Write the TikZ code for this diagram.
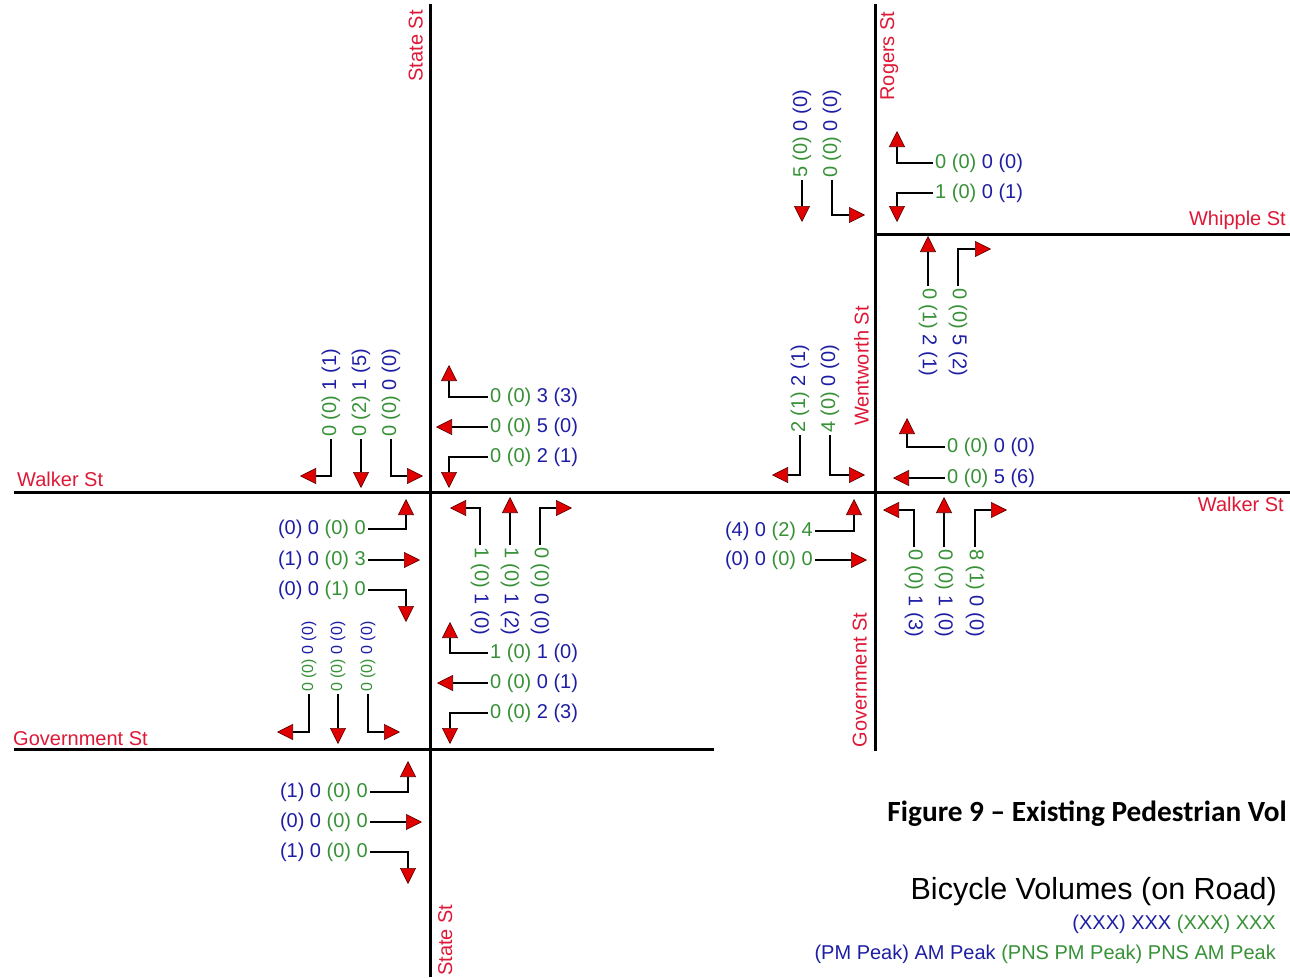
\documentclass[tikz,border=0pt]{standalone}
\usepackage{fontspec}
\setmainfont{Liberation Sans}
\newfontfamily\titlefont{Carlito}
\usetikzlibrary{arrows.meta}
\definecolor{numgreen}{RGB}{55,145,55}
\definecolor{numblue}{RGB}{30,30,165}
\definecolor{streetred}{RGB}{222,25,55}
\definecolor{arrred}{RGB}{225,0,0}
\definecolor{arrdark}{RGB}{90,0,0}
\newcommand{\gb}[4]{\textcolor{numgreen}{#1 (#2)} \textcolor{numblue}{#3 (#4)}}
\newcommand{\bgx}[4]{\textcolor{numblue}{(#1) #2} \textcolor{numgreen}{(#3) #4}}
\tikzset{
  road/.style={line width=3pt, line cap=rect},
  mv/.style={line width=1.8pt, -{Triangle[length=16pt,width=16pt,fill=arrred,color=arrdark,line width=0.6pt]}},
  num/.style={font=\fontsize{20}{24}\selectfont, inner sep=2pt},
  smallnum/.style={font=\fontsize{16}{19}\selectfont, inner sep=2pt},
  lbl/.style={font=\fontsize{20}{24}\selectfont, text=streetred, inner sep=0pt},
}
\begin{document}
\begin{tikzpicture}[x=1pt,y=-1pt]
\useasboundingbox (0,0) rectangle (1290,977);
\fill[white] (0,0) rectangle (1290,977);
% roads
\coordinate (sT) at (430,5); \coordinate (sB) at (430,975);
\coordinate (wL) at (15,492); \coordinate (wR) at (1288,492);
\coordinate (gL) at (15,749); \coordinate (gR) at (712,749);
\coordinate (rT) at (875,5); \coordinate (rB) at (875,749);
\coordinate (whL) at (875,234); \coordinate (whR) at (1288,234);
\draw[road] (sT) -- (sB);
\draw[road] (wL) -- (wR);
\draw[road] (gL) -- (gR);
\draw[road] (rT) -- (rB);
\draw[road] (whL) -- (whR);
% street labels
\node[lbl,rotate=90,anchor=south] (lstate1) at (423,46) {State St};
\node[lbl,rotate=90,anchor=north] (lstate2) at (438,940) {State St};
\node[lbl,rotate=90,anchor=north] (lrogers) at (880,56) {Rogers St};
\node[lbl,rotate=90,anchor=south] (lwent) at (869,366) {Wentworth St};
\node[lbl,rotate=90,anchor=south] (lgov2) at (867,680) {Government St};
\node[lbl,anchor=base west] (lwalk1) at (17,486) {Walker St};
\node[lbl,anchor=base east] (lwalk2) at (1284,511) {Walker St};
\node[lbl,anchor=base east] (lwhip) at (1286,225) {Whipple St};
\node[lbl,anchor=base west] (lgov1) at (13,745) {Government St};
% State / Walker NW
\node[num,rotate=90,anchor=west] (nw1) at (331,439) {\gb{0}{0}{1}{1}};
\node[num,rotate=90,anchor=west] (nw2) at (361,439) {\gb{0}{2}{1}{5}};
\node[num,rotate=90,anchor=west] (nw3) at (391,439) {\gb{0}{0}{0}{0}};
\draw[mv] (nw1.west) |- (300,476);
\draw[mv] (nw2.west) -- (361,488);
\draw[mv] (nw3.west) |- (423,476);
% State / Walker NE
\node[num,anchor=west] (ne1) at (488,397) {\gb{0}{0}{3}{3}};
\node[num,anchor=west] (ne2) at (488,427) {\gb{0}{0}{5}{0}};
\node[num,anchor=west] (ne3) at (488,457) {\gb{0}{0}{2}{1}};
\draw[mv] (ne1.west) -| (449,365);
\draw[mv] (ne2.west) -- (436,427);
\draw[mv] (ne3.west) -| (449,488);
% State / Walker SW
\node[num,anchor=east] (sw1) at (368,529) {\bgx{0}{0}{0}{0}};
\node[num,anchor=east] (sw2) at (368,560) {\bgx{1}{0}{0}{3}};
\node[num,anchor=east] (sw3) at (368,590) {\bgx{0}{0}{1}{0}};
\draw[mv] (sw1.east) -| (406,499);
\draw[mv] (sw2.east) -- (420,560);
\draw[mv] (sw3.east) -| (406,622);
% State / Walker SE
\node[num,rotate=-90,anchor=west] (se1) at (480,545) {\gb{1}{0}{1}{0}};
\node[num,rotate=-90,anchor=west] (se2) at (510,545) {\gb{1}{0}{1}{2}};
\node[num,rotate=-90,anchor=west] (se3) at (540,545) {\gb{0}{0}{0}{0}};
\draw[mv] (se1.west) |- (450,508);
\draw[mv] (se2.west) -- (510,497);
\draw[mv] (se3.west) |- (572,508);
% State / Government NW
\node[smallnum,rotate=90,anchor=west] (gw1) at (309,694) {\gb{0}{0}{0}{0}};
\node[smallnum,rotate=90,anchor=west] (gw2) at (338,694) {\gb{0}{0}{0}{0}};
\node[smallnum,rotate=90,anchor=west] (gw3) at (368,694) {\gb{0}{0}{0}{0}};
\draw[mv] (gw1.west) |- (277,732);
\draw[mv] (gw2.west) -- (338,744);
\draw[mv] (gw3.west) |- (400,732);
% State / Government NE
\node[num,anchor=west] (ge1) at (488,653) {\gb{1}{0}{1}{0}};
\node[num,anchor=west] (ge2) at (488,683) {\gb{0}{0}{0}{1}};
\node[num,anchor=west] (ge3) at (488,713) {\gb{0}{0}{2}{3}};
\draw[mv] (ge1.west) -| (450,622);
\draw[mv] (ge2.west) -- (437,683);
\draw[mv] (ge3.west) -| (450,744);
% State / Government SW
\node[num,anchor=east] (gs1) at (370,792) {\bgx{1}{0}{0}{0}};
\node[num,anchor=east] (gs2) at (370,822) {\bgx{0}{0}{0}{0}};
\node[num,anchor=east] (gs3) at (370,852) {\bgx{1}{0}{0}{0}};
\draw[mv] (gs1.east) -| (408,761);
\draw[mv] (gs2.east) -- (422,822);
\draw[mv] (gs3.east) -| (408,884);
% Rogers / Whipple
\node[num,rotate=90,anchor=west] (rw1) at (802,180) {\gb{5}{0}{0}{0}};
\node[num,rotate=90,anchor=west] (rw2) at (832,180) {\gb{0}{0}{0}{0}};
\draw[mv] (rw1.west) -- (802,222);
\draw[mv] (rw2.west) |- (865,215);
\node[num,anchor=west] (rr1) at (933,163) {\gb{0}{0}{0}{0}};
\node[num,anchor=west] (rr2) at (933,193) {\gb{1}{0}{0}{1}};
\draw[mv] (rr1.west) -| (897,131);
\draw[mv] (rr2.west) -| (897,222);
\node[num,rotate=-90,anchor=west] (wb1) at (928,286) {\gb{0}{1}{2}{1}};
\node[num,rotate=-90,anchor=west] (wb2) at (958,286) {\gb{0}{0}{5}{2}};
\draw[mv] (wb1.west) -- (928,236);
\draw[mv] (wb2.west) |- (991,249);
% Wentworth / Walker
\node[num,rotate=90,anchor=west] (wl1) at (800,435) {\gb{2}{1}{2}{1}};
\node[num,rotate=90,anchor=west] (wl2) at (830,435) {\gb{4}{0}{0}{0}};
\draw[mv] (wl1.west) |- (772,475);
\draw[mv] (wl2.west) |- (865,475);
\node[num,anchor=west] (wr1) at (945,447) {\gb{0}{0}{0}{0}};
\node[num,anchor=west] (wr2) at (945,478) {\gb{0}{0}{5}{6}};
\draw[mv] (wr1.west) -| (907,418);
\draw[mv] (wr2.west) -- (893,478);
\node[num,anchor=east] (gl1) at (815,531) {\bgx{4}{0}{2}{4}};
\node[num,anchor=east] (gl2) at (815,560) {\bgx{0}{0}{0}{0}};
\draw[mv] (gl1.east) -| (854,499);
\draw[mv] (gl2.east) -- (867,560);
\node[num,rotate=-90,anchor=west] (gr1) at (914,547) {\gb{0}{0}{1}{3}};
\node[num,rotate=-90,anchor=west] (gr2) at (944,547) {\gb{0}{0}{1}{0}};
\node[num,rotate=-90,anchor=west] (gr3) at (975,547) {\gb{8}{1}{0}{0}};
\draw[mv] (gr1.west) |- (883,510);
\draw[mv] (gr2.west) -- (944,497);
\draw[mv] (gr3.west) |- (1007,510);
% title and legend
\node[anchor=base east, inner sep=0pt, font=\titlefont\bfseries\fontsize{29.3}{35}\selectfont] (title) at (1287,821) {Figure 9 – Existing Pedestrian Vol};
\node[anchor=base east, inner sep=0pt, font=\fontsize{30.5}{36}\selectfont] (leg1) at (1277,899) {Bicycle Volumes (on Road)};
\node[anchor=base east, inner sep=0pt, font=\fontsize{20}{24}\selectfont] (leg2) at (1276,929) {\bgx{XXX}{XXX}{XXX}{XXX}};
\node[anchor=base east, inner sep=0pt, font=\fontsize{20}{24}\selectfont] (leg3) at (1276,959) {\textcolor{numblue}{(PM Peak) AM Peak} \textcolor{numgreen}{(PNS PM Peak) PNS AM Peak}};
\end{tikzpicture}
\end{document}
